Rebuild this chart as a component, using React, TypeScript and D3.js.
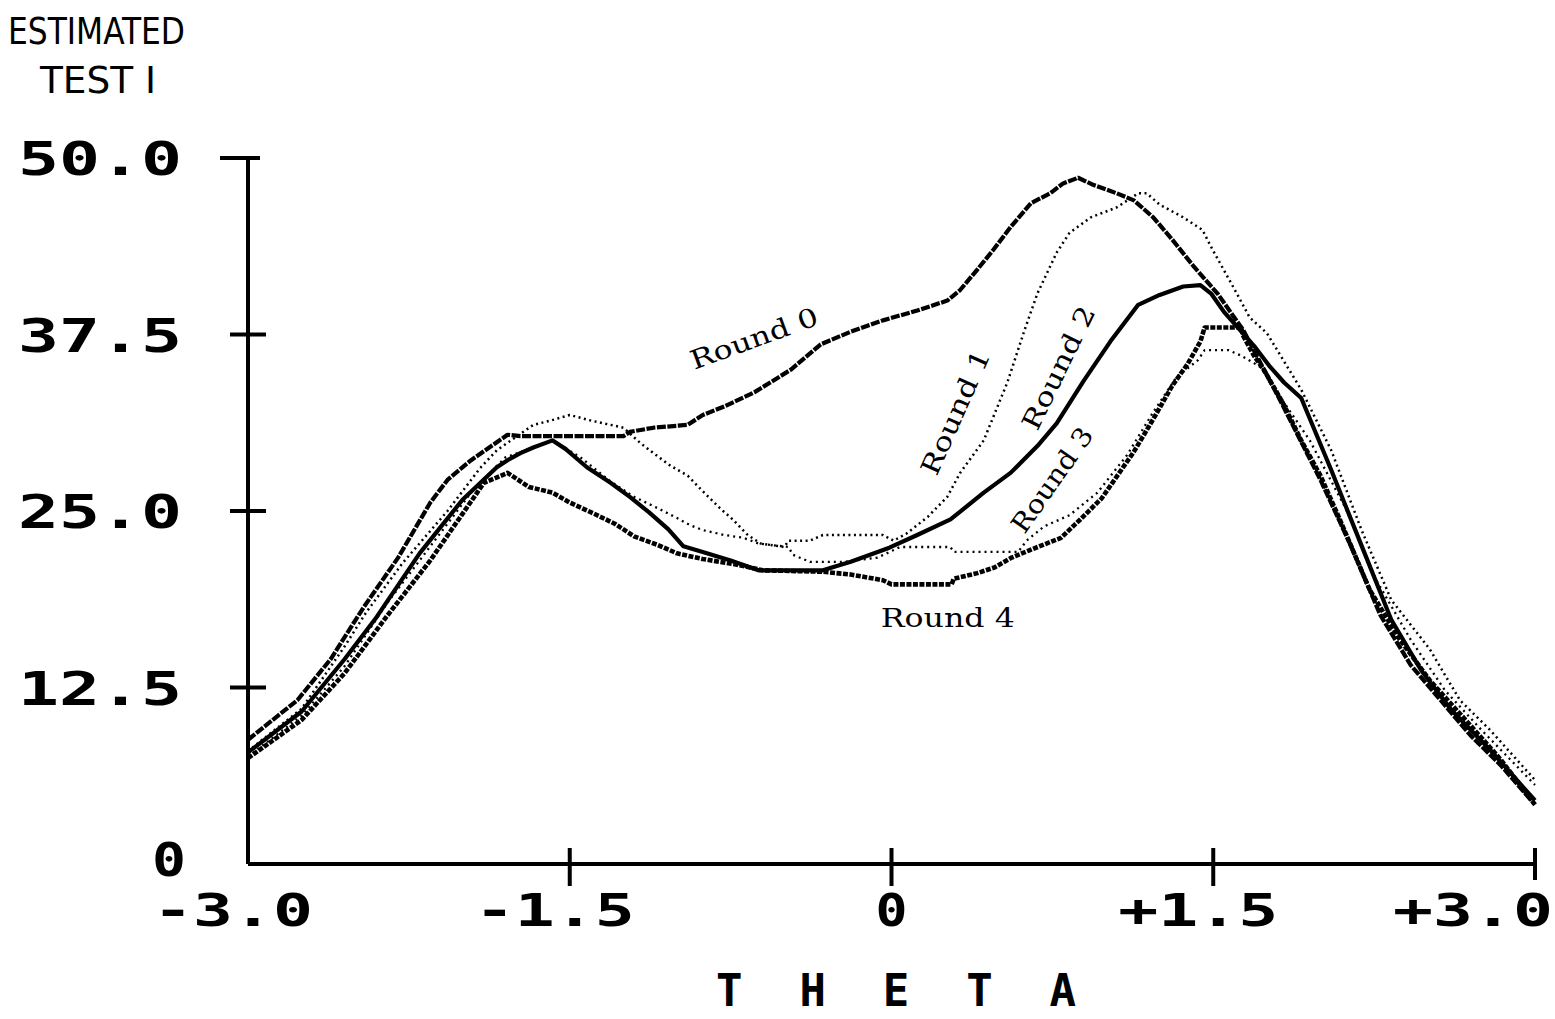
import React from "react";
import * as d3 from "d3";

const yTicks = [0, 12.5, 25, 37.5, 50];
const yTickLabels = ["0", "12.5", "25.0", "37.5", "50.0"];
const xTicks = [-3, -1.5, 0, 1.5, 3];
const xTickLabels = ["-3.0", "-1.5", "0", "+1.5", "+3.0"];

const round0: [number, number][] = [
  [-3.0, 8.8], [-2.77, 11.6], [-2.615, 14.5], [-2.46, 18.2], [-2.3, 21.7], [-2.15, 25.6],
  [-2.07, 27.2], [-1.96, 28.6], [-1.79, 30.4], [-1.73, 30.3], [-1.25, 30.3], [-1.22, 30.6],
  [-1.11, 30.9], [-0.95, 31.1], [-0.88, 31.8], [-0.78, 32.4], [-0.64, 33.4], [-0.47, 35.0],
  [-0.33, 36.8], [-0.19, 37.7], [-0.04, 38.5], [0.12, 39.2], [0.26, 39.9], [0.32, 40.65],
  [0.4, 42.1], [0.475, 43.5], [0.555, 45.1], [0.65, 46.8], [0.74, 47.5], [0.8, 48.2],
  [0.87, 48.6], [0.94, 48.1], [1.05, 47.5], [1.13, 47.0], [1.22, 45.8], [1.31, 44.2],
  [1.41, 42.3], [1.52, 40.4], [1.64, 37.8], [1.81, 32.9], [2.0, 27.2], [2.14, 22.6],
  [2.28, 17.6], [2.42, 14.1], [2.56, 11.6], [2.7, 9.1], [2.84, 7.0], [3.0, 4.2],
];

const round1: [number, number][] = [
  [-3.0, 8.0], [-2.75, 11.0], [-2.55, 15.4], [-2.45, 17.8], [-2.28, 21.3], [-2.07, 25.0],
  [-1.92, 28.0], [-1.84, 29.3], [-1.67, 31.1], [-1.59, 31.4], [-1.5, 31.8], [-1.4, 31.4],
  [-1.25, 30.9], [-1.17, 29.8], [-1.11, 29.1], [-1.03, 28.2], [-0.95, 27.5], [-0.88, 26.4],
  [-0.8, 25.2], [-0.74, 24.4], [-0.67, 23.3], [-0.61, 22.7], [-0.5, 22.45], [-0.48, 22.9],
  [-0.38, 22.9], [-0.32, 23.3], [-0.04, 23.3], [0.01, 22.9], [0.07, 23.4], [0.17, 24.6],
  [0.26, 26.0], [0.32, 27.7], [0.43, 30.0], [0.54, 34.1], [0.62, 37.8], [0.68, 40.4],
  [0.77, 43.3], [0.83, 44.7], [0.93, 45.8], [1.05, 46.5], [1.15, 47.5], [1.19, 47.5],
  [1.25, 46.7], [1.36, 45.8], [1.45, 44.9], [1.49, 43.7], [1.53, 42.6], [1.61, 40.4],
  [1.67, 38.7], [1.75, 37.6], [1.91, 33.6], [2.05, 29.3], [2.19, 23.7], [2.33, 18.7],
  [2.51, 15.2], [2.65, 11.6], [2.79, 9.5], [3.0, 5.95],
];

const round2: [number, number][] = [
  [-3.0, 7.9], [-2.75, 10.8], [-2.55, 14.5], [-2.4, 17.5], [-2.2, 22.0], [-2.0, 25.8],
  [-1.84, 28.1], [-1.79, 28.6], [-1.73, 29.1], [-1.67, 29.5], [-1.58, 30.0], [-1.52, 29.4],
  [-1.42, 28.1], [-1.31, 27.0], [-1.22, 26.0], [-1.13, 24.9], [-1.04, 23.7], [-0.97, 22.5],
  [-0.88, 22.1], [-0.75, 21.5], [-0.62, 20.8], [-0.32, 20.8], [-0.19, 21.4], [-0.01, 22.4],
  [0.12, 23.3], [0.275, 24.4], [0.43, 26.3], [0.555, 27.7], [0.68, 29.6], [0.77, 31.2],
  [0.895, 34.2], [1.02, 37.0], [1.15, 39.6], [1.25, 40.3], [1.36, 40.9], [1.44, 41.0],
  [1.49, 40.4], [1.55, 39.1], [1.62, 37.9], [1.69, 36.7], [1.76, 35.3], [1.83, 34.1],
  [1.91, 33.0], [2.05, 27.9], [2.19, 22.6], [2.33, 17.3], [2.47, 13.7], [2.61, 10.9],
  [2.79, 8.1], [3.0, 4.5],
];

const round3: [number, number][] = [
  [-3.0, 7.6], [-2.75, 10.5], [-2.55, 14.0], [-2.35, 18.5], [-2.15, 22.5], [-1.95, 26.5],
  [-1.8, 28.8], [-1.65, 29.6], [-1.58, 30.0], [-1.45, 28.8], [-1.31, 27.1], [-1.2, 26.0],
  [-1.09, 25.2], [-1.0, 24.5], [-0.94, 24.0], [-0.88, 23.65], [-0.78, 23.3], [-0.69, 23.1],
  [-0.62, 22.7], [-0.48, 22.45], [-0.46, 21.9], [-0.38, 21.4], [-0.22, 21.4], [-0.065, 21.7],
  [0.04, 22.45], [0.275, 22.45], [0.29, 22.1], [0.59, 22.1], [0.63, 22.9], [0.71, 23.9],
  [0.83, 24.7], [0.96, 26.3], [1.1, 29.0], [1.22, 32.0], [1.33, 34.5], [1.43, 35.7],
  [1.46, 36.4], [1.57, 36.4], [1.63, 36.0], [1.72, 35.2], [1.78, 33.8], [1.95, 30.0],
  [2.12, 25.1], [2.26, 20.1], [2.42, 15.9], [2.58, 12.3], [2.75, 9.5], [3.0, 5.6],
];

const round4: [number, number][] = [
  [-3.0, 7.5], [-2.75, 10.2], [-2.55, 13.5], [-2.35, 17.6], [-2.15, 21.5], [-2.0, 24.8],
  [-1.9, 27.0], [-1.79, 27.7], [-1.69, 26.7], [-1.58, 26.3], [-1.5, 25.6], [-1.4, 24.9],
  [-1.29, 24.1], [-1.2, 23.2], [-1.09, 22.6], [-1.0, 22.0], [-0.88, 21.6], [-0.72, 21.2],
  [-0.6, 20.8], [-0.32, 20.7], [-0.19, 20.5], [-0.04, 20.1], [0.0, 19.8], [0.28, 19.8],
  [0.29, 20.2], [0.4, 20.6], [0.48, 21.0], [0.56, 21.7], [0.64, 22.2], [0.79, 23.1],
  [0.88, 24.4], [0.98, 25.9], [1.13, 29.2], [1.22, 31.5], [1.31, 33.9], [1.38, 35.4],
  [1.44, 37.0], [1.46, 38.0], [1.63, 38.0], [1.64, 37.4], [1.69, 36.0], [1.74, 34.9],
  [1.83, 32.5], [1.91, 30.0], [2.0, 27.5], [2.09, 24.4], [2.23, 19.4], [2.37, 15.9],
  [2.51, 13.0], [2.7, 9.8], [2.84, 7.4], [3.0, 4.2],
];

const seriesNames = ["Round 0", "Round 1", "Round 2", "Round 3", "Round 4"];
const seriesData = [round0, round1, round2, round3, round4];

const W = 1555;
const H = 1019;

export default function App() {
  const x = d3.scaleLinear().domain([-3, 3]).range([248, 1535]);
  const y = d3.scaleLinear().domain([0, 50]).range([864, 158]);
  const line = d3
    .line<[number, number]>()
    .x((d) => x(d[0]))
    .y((d) => y(d[1]))
    .curve(d3.curveLinear);

  const styles = [
    { w: 4.2, dash: "9 1.5" },
    { w: 2.5, dash: "2 3.5" },
    { w: 4.2, dash: "none" },
    { w: 2.3, dash: "2 4" },
    { w: 4.6, dash: "5 1.5" },
  ];

  const labelFont = "'DejaVu Serif', 'Liberation Serif', serif";
  const boldFont = "'DejaVu Sans Mono', monospace";
  const condFont = "'DejaVu Sans Condensed', 'Liberation Sans Narrow', sans-serif";

  const labels = [
    { t: -0.92, v: 35.0, rot: -20, name: seriesNames[0], len: 134 },
    { t: 0.21, v: 27.4, rot: -66, name: seriesNames[1], len: 134 },
    { t: 0.68, v: 30.6, rot: -64, name: seriesNames[2], len: 134 },
    { t: 0.62, v: 23.3, rot: -55, name: seriesNames[3], len: 122 },
    { t: -0.05, v: 16.8, rot: 0, name: seriesNames[4], len: 134 },
  ];

  return (
    <svg
      width={W}
      height={H}
      style={{ position: "absolute", left: 0, top: 0, background: "#fff" }}
    >
      <rect x={0} y={0} width={W} height={H} fill="#fff" />
      <text x={8} y={44} fontFamily={condFont} fontSize={38} textLength={177} lengthAdjust="spacingAndGlyphs" fill="#000">
        ESTIMATED
      </text>
      <text x={40} y={93} fontFamily={condFont} fontSize={38} textLength={116} lengthAdjust="spacingAndGlyphs" fill="#000">
        TEST I
      </text>

      <line x1={x(-3)} y1={y(50)} x2={x(-3)} y2={y(0)} stroke="#000" strokeWidth={4} />
      <line x1={x(-3)} y1={y(0)} x2={x(3)} y2={y(0)} stroke="#000" strokeWidth={4} />

      {yTicks.map((t, i) =>
        t === 0 ? null : (
          <line
            key={"yt" + i}
            x1={x(-3) - (t === 50 ? 28 : 18)}
            x2={x(-3) + (t === 50 ? 12 : 18)}
            y1={y(t)}
            y2={y(t)}
            stroke="#000"
            strokeWidth={4}
          />
        )
      )}
      {yTickLabels.map((lab, i) => (
        <text
          key={"yl" + i}
          x={yTicks[i] === 0 ? 186 : 182}
          y={y(yTicks[i]) + (yTicks[i] === 0 ? 12 : 17)}
          textAnchor="end"
          fontFamily={boldFont}
          fontWeight="bold"
          fontSize={46}
          textLength={yTicks[i] === 0 ? 34 : 164}
          lengthAdjust="spacingAndGlyphs"
          fill="#000"
        >
          {lab}
        </text>
      ))}

      {xTicks.map((t, i) =>
        t === -3 ? null : (
          <line
            key={"xt" + i}
            x1={x(t)}
            x2={x(t)}
            y1={y(0) - 16}
            y2={y(0) + (t === 3 ? 16 : 22)}
            stroke="#000"
            strokeWidth={4}
          />
        )
      )}
      {xTickLabels.map((lab, i) => {
        const last = i === xTickLabels.length - 1;
        const cx = last ? W - 2 : x(xTicks[i]) - (xTicks[i] === 0 ? 0 : 15);
        return (
          <text
            key={"xl" + i}
            x={cx}
            y={926}
            textAnchor={last ? "end" : "middle"}
            fontFamily={boldFont}
            fontWeight="bold"
            fontSize={44}
            textLength={lab.length === 1 ? 32 : 160}
            lengthAdjust="spacingAndGlyphs"
            fill="#000"
          >
            {lab}
          </text>
        );
      })}

      <text
        x={716}
        y={1006}
        fontFamily={boldFont}
        fontWeight="bold"
        fontSize={44}
        textLength={360}
        lengthAdjust="spacing"
        fill="#000"
      >
        THETA
      </text>

      {seriesData.map((d, i) => (
        <path
          key={"s" + i}
          d={line(d) || ""}
          fill="none"
          stroke="#000"
          strokeWidth={styles[i].w}
          strokeDasharray={styles[i].dash}
          strokeLinejoin="round"
        />
      ))}

      {labels.map((l, i) => (
        <text
          key={"lab" + i}
          transform={`translate(${x(l.t)},${y(l.v)}) rotate(${l.rot})`}
          fontFamily={labelFont}
          fontSize={26}
          fill="#000"
          textLength={l.len}
          lengthAdjust="spacingAndGlyphs"
        >
          {l.name}
        </text>
      ))}
    </svg>
  );
}
